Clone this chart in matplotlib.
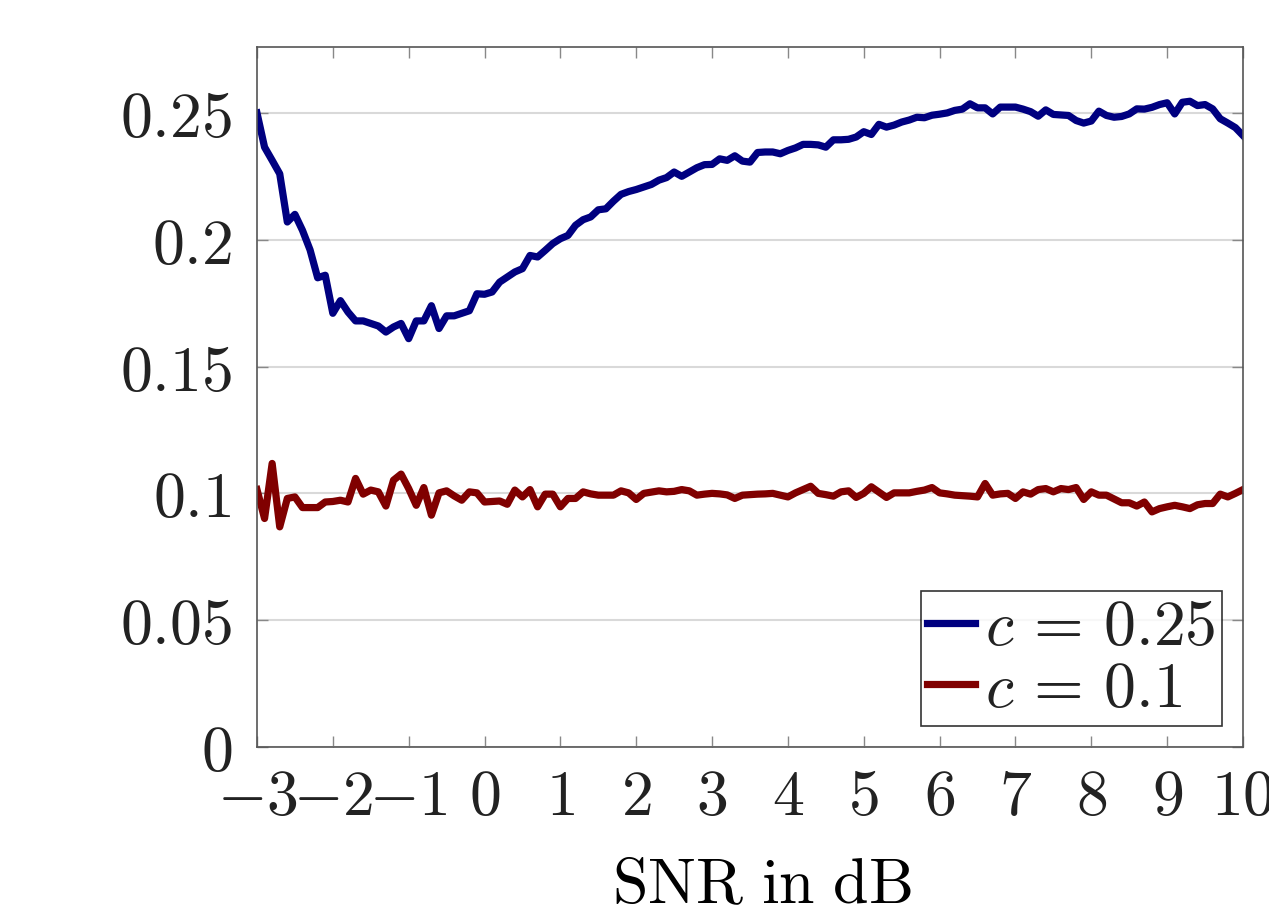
import numpy as np
import matplotlib
matplotlib.use("Agg")
import matplotlib.pyplot as plt

# Datos (paso de 0.1 dB)
snr_db = np.round(np.arange(-3.0, 10.05, 0.1), 1)

c_025 = [0.2500, 0.2365, 0.2313, 0.2260, 0.2070, 0.2100, 0.2037, 0.1960, 0.1850, 0.1860,
         0.1710, 0.1760, 0.1715, 0.1680, 0.1680, 0.1670, 0.1660, 0.1636, 0.1656, 0.1670,
         0.1610, 0.1680, 0.1680, 0.1740, 0.1650, 0.1700, 0.1700, 0.1710, 0.1720, 0.1787,
         0.1785, 0.1794, 0.1833, 0.1853, 0.1873, 0.1886, 0.1938, 0.1932, 0.1958, 0.1985,
         0.2004, 0.2017, 0.2057, 0.2079, 0.2090, 0.2118, 0.2122, 0.2152, 0.2179, 0.2190,
         0.2198, 0.2208, 0.2218, 0.2235, 0.2245, 0.2267, 0.2250, 0.2267, 0.2284, 0.2296,
         0.2297, 0.2319, 0.2313, 0.2331, 0.2310, 0.2306, 0.2344, 0.2346, 0.2346, 0.2339,
         0.2352, 0.2362, 0.2376, 0.2376, 0.2374, 0.2365, 0.2394, 0.2394, 0.2396, 0.2405,
         0.2426, 0.2415, 0.2455, 0.2444, 0.2452, 0.2464, 0.2472, 0.2483, 0.2481, 0.2491,
         0.2495, 0.2500, 0.2510, 0.2515, 0.2536, 0.2520, 0.2520, 0.2496, 0.2523, 0.2523,
         0.2523, 0.2515, 0.2505, 0.2487, 0.2512, 0.2494, 0.2492, 0.2490, 0.2470, 0.2460,
         0.2468, 0.2507, 0.2490, 0.2483, 0.2486, 0.2496, 0.2516, 0.2515, 0.2522, 0.2533,
         0.2540, 0.2496, 0.2542, 0.2546, 0.2529, 0.2533, 0.2516, 0.2477, 0.2460, 0.2442,
         0.2411]

c_01 = [0.1015, 0.0901, 0.1118, 0.0868, 0.0980, 0.0986, 0.0944, 0.0944, 0.0944, 0.0966,
        0.0968, 0.0973, 0.0966, 0.1059, 0.0997, 0.1013, 0.1006, 0.0950, 0.1052, 0.1076,
        0.1019, 0.0953, 0.1023, 0.0914, 0.1002, 0.1010, 0.0990, 0.0973, 0.1006, 0.1002,
        0.0966, 0.0968, 0.0970, 0.0957, 0.1013, 0.0986, 0.1015, 0.0947, 0.0997, 0.0997,
        0.0947, 0.0980, 0.0980, 0.1006, 0.0998, 0.0993, 0.0993, 0.0993, 0.1010, 0.1002,
        0.0976, 0.1000, 0.1005, 0.1010, 0.1006, 0.1008, 0.1015, 0.1010, 0.0993, 0.0997,
        0.1000, 0.0998, 0.0994, 0.0980, 0.0993, 0.0995, 0.0997, 0.0998, 0.1000, 0.0993,
        0.0986, 0.1002, 0.1015, 0.1028, 0.1000, 0.0995, 0.0989, 0.1006, 0.1010, 0.0984,
        0.1000, 0.1026, 0.1005, 0.0984, 0.1002, 0.1002, 0.1002, 0.1008, 0.1013, 0.1023,
        0.1002, 0.0998, 0.0993, 0.0991, 0.0989, 0.0986, 0.1039, 0.0993, 0.0998, 0.1000,
        0.0980, 0.1006, 0.0997, 0.1015, 0.1019, 0.1006, 0.1019, 0.1015, 0.1023, 0.0976,
        0.1006, 0.0993, 0.0993, 0.0978, 0.0963, 0.0963, 0.0950, 0.0966, 0.0927, 0.0940,
        0.0947, 0.0953, 0.0947, 0.0940, 0.0955, 0.0960, 0.0960, 0.0997, 0.0986, 0.1000,
        0.1015]

x_ticks = list(range(-3, 11))
y_ticks = [0, 0.05, 0.1, 0.15, 0.2, 0.25]
y_tick_labels = ["0", "0.05", "0.1", "0.15", "0.2", "0.25"]

plt.rcParams["mathtext.fontset"] = "cm"
plt.rcParams["font.family"] = "serif"
plt.rcParams["font.serif"] = ["DejaVu Serif"]
plt.rcParams["text.color"] = "#222222"
plt.rcParams["xtick.labelcolor"] = "#222222"
plt.rcParams["ytick.labelcolor"] = "#222222"

fig = plt.figure(figsize=(12.69, 9.14), dpi=100)
ax = fig.add_axes([0.2025, 0.1827, 0.777, 0.7659])

ax.plot(snr_db, c_025, color="#000080", lw=5.2, label=r"$c\,=\,0.25$")
ax.plot(snr_db, c_01, color="#800000", lw=5.2, label=r"$c\,=\,0.1$")

ax.set_xlim(-3, 10)
ax.set_ylim(0, 0.276)

ax.set_xticks(x_ticks)
ax.set_xticklabels(["$%d$" % t for t in x_ticks])
ax.set_yticks(y_ticks)
ax.set_yticklabels(["$%s$" % s for s in y_tick_labels])

# rejilla horizontal gris claro
ax.grid(axis="y", color="#d9d9d9", lw=1.5)
ax.set_axisbelow(True)

ax.tick_params(axis="both", direction="in", top=True, right=True,
               length=8, width=1.0, color="#888888", labelsize=46)
ax.tick_params(axis="x", pad=14)
ax.tick_params(axis="y", pad=18)

for s in ax.spines.values():
    s.set_color("#555555")
    s.set_linewidth(1.2)

ax.set_xlabel(r"$\mathrm{SNR\ in\ dB}$", fontsize=46)
ax.xaxis.set_label_coords(0.512, -0.155)

leg = ax.legend(loc="lower right", fontsize=46, frameon=True, fancybox=False,
                edgecolor="black", handlelength=0.75, handletextpad=0.15,
                borderpad=0.1, labelspacing=0.0, borderaxespad=0.33)
leg.get_frame().set_linewidth(1.2)

fig.savefig("out.png", dpi=100)
plt.close(fig)
